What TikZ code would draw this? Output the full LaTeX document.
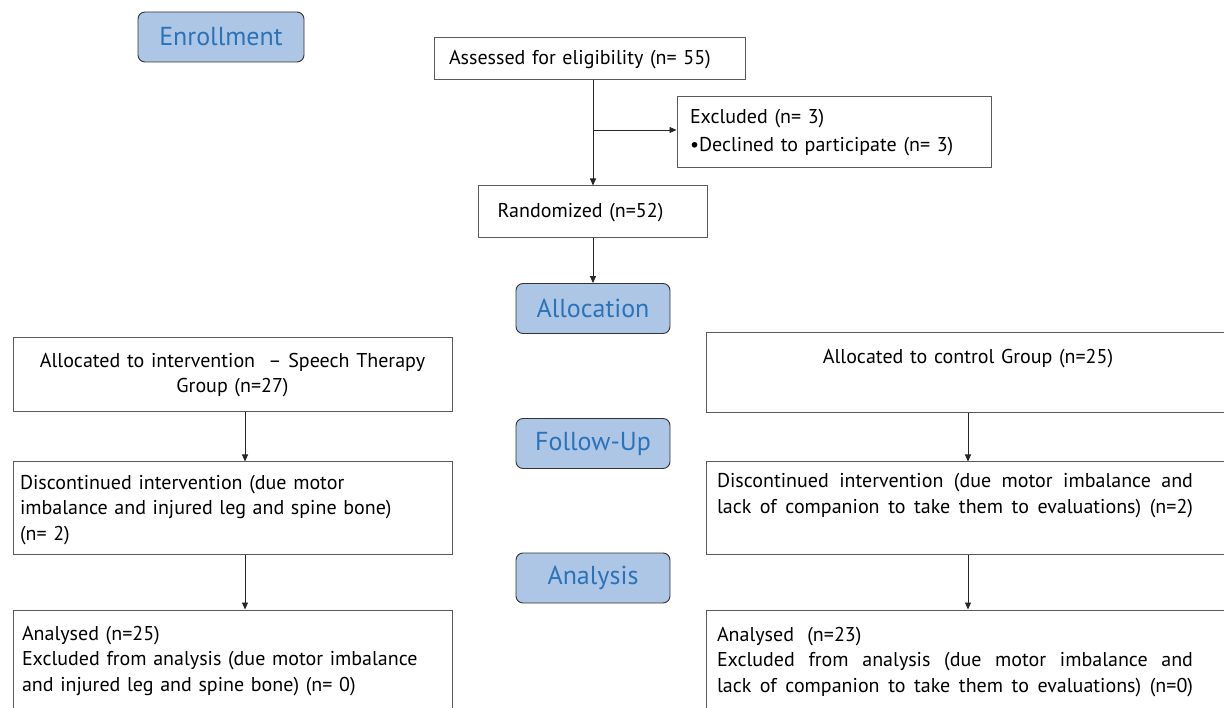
\documentclass[tikz,border=0pt]{standalone}
\usepackage{fontspec}
\setmainfont{PT Sans}
\usetikzlibrary{calc,arrows.meta}
\definecolor{phasefill}{HTML}{AEC6E6}
\definecolor{phasetext}{HTML}{2A73B8}
\definecolor{boxline}{HTML}{5A5A5A}
\newcommand\jline[1]{\leavevmode\hbox to 476pt{\spaceskip=0.25em plus 1fil\relax #1}}
\begin{document}
\begin{tikzpicture}[x=1pt,y=-1pt,
  phase/.style={draw=black!80, fill=phasefill, rounded corners=7pt, line width=0.9pt,
    text=phasetext, font=\fontsize{26}{30}\selectfont, inner sep=0pt,
    minimum width=154pt, minimum height=50pt},
  box/.style={draw=boxline, line width=1pt, inner sep=0pt,
    font=\fontsize{20}{25.5}\selectfont},
  arr/.style={-{Triangle[length=7pt,width=6pt]}, line width=0.8pt, draw=black!85}]
\useasboundingbox (0,0) rectangle (1224,708);
\clip (0,0) rectangle (1224,708);

% phase labels
\node[phase, minimum width=166pt] (enr) at (221,37) {Enrollment};
\node[phase] (alloc) at (593,308.5) {Allocation};
\node[phase] (fup) at (593,443.5) {Follow-Up};
\node[phase] (ana) at (593,578) {Analysis};

% top boxes
\node[box, minimum width=311pt, minimum height=42pt, text width=281pt, align=left]
  (assess) at (589.5,59) {\strut Assessed for eligibility (n= 55)};
\node[box, minimum width=314pt, minimum height=71pt, text width=288pt, align=left]
  (excl) at (834,132.5) {Excluded (n= 3)\\[3pt]•Declined to participate (n= 3)};
\node[box, minimum width=229pt, minimum height=52pt, text width=191pt, align=left]
  (rand) at (593,212) {\strut Randomized (n=52)};

% left column
\node[box, minimum width=439pt, minimum height=74pt, text width=423pt, align=center]
  (lalloc) at (232.5,375) {Allocated to intervention\ \ -- Speech Therapy\\Group (n=27)};
\node[box, minimum width=439pt, minimum height=92pt, text width=425pt, align=left]
  (ldisc) at (232.5,508) {\strut Discontinued intervention (due motor\\imbalance and injured leg and spine bone)\\(n= 2)};
\node[box, minimum width=439pt, minimum height=102pt, text width=421pt, align=left]
  (lana) at (232.5,661) {Analysed (n=25)\\Excluded from analysis (due motor imbalance\\and injured leg and spine bone) (n= 0)};

% right column
\node[box, minimum width=524pt, minimum height=80pt, text width=502pt, align=center]
  (ralloc) at (968,373) {Allocated to control Group (n=25)\\\strut};
\node[box, minimum width=524pt, minimum height=92pt, text width=502pt, align=left]
  (rdisc) at (968,508) {\jline{\strut Discontinued intervention (due motor imbalance and}\\
  \jline{lack of companion to take them to evaluations) (n=2)}\\\strut};
\node[box, minimum width=524pt, minimum height=104pt, text width=502pt, align=left]
  (rana) at (968,662) {Analysed\ \ (n=23)\\
  \jline{Excluded from analysis (due motor imbalance and}\\
  \jline{lack of companion to take them to evaluations) (n=0)}};

% connectors
\draw[arr] (assess.south -| rand.north) -- (rand.north);
\draw[arr] ($(excl.west -| rand.north)+(0,-2.5)$) -- ($(excl.west)+(0,-2.5)$);
\draw[arr] (rand.south) -- (alloc.north);
\draw[arr] (lalloc.south -| 245,0) -- (ldisc.north -| 245,0);
\draw[arr] (ldisc.south -| 245,0) -- (lana.north -| 245,0);
\draw[arr] (ralloc.south) -- (rdisc.north);
\draw[arr] (rdisc.south) -- (rana.north);
\end{tikzpicture}
\end{document}
